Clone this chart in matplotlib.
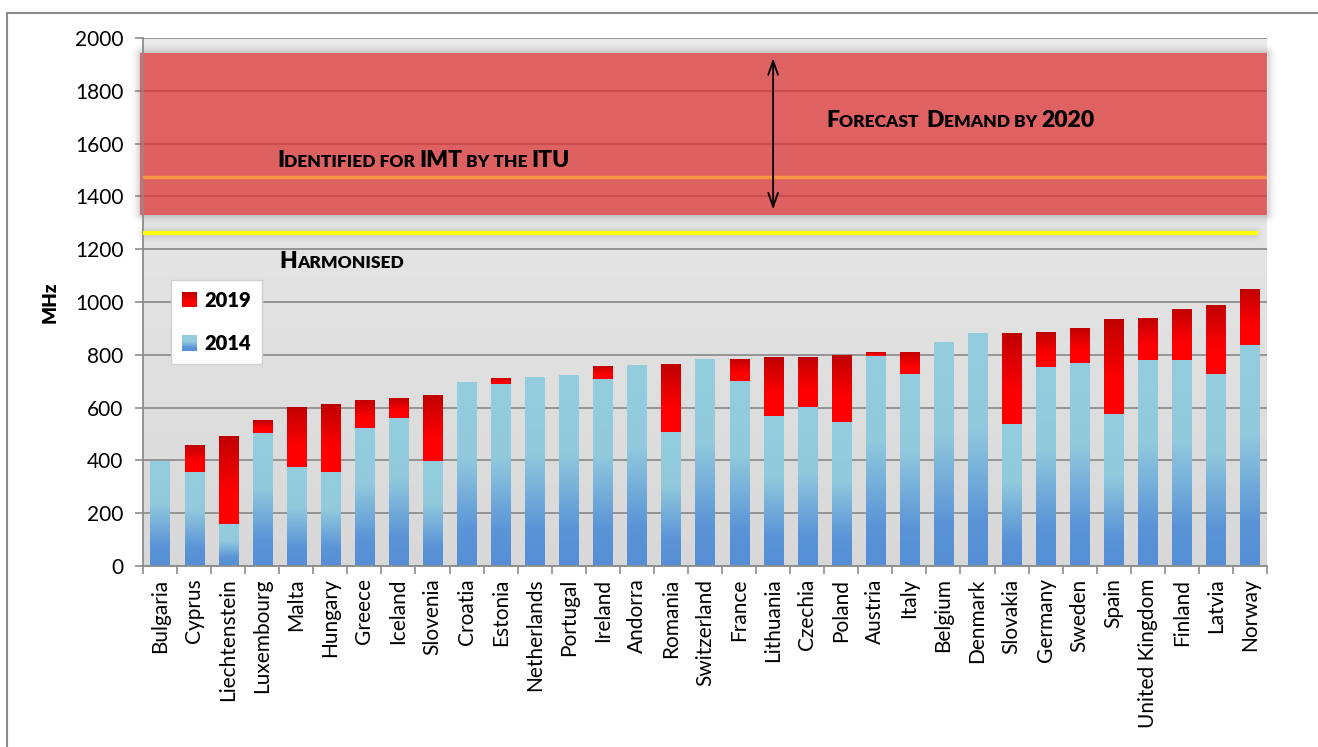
import matplotlib
matplotlib.use('Agg')
import matplotlib.pyplot as plt
import numpy as np
from matplotlib.colors import LinearSegmentedColormap
from matplotlib.legend_handler import HandlerBase
from matplotlib.patches import Rectangle, Patch
from matplotlib.transforms import blended_transform_factory

plt.rcParams['font.family'] = ['Lato', 'DejaVu Sans']

# Data (MHz)
countries = ['Bulgaria', 'Cyprus', 'Liechtenstein', 'Luxembourg', 'Malta', 'Hungary',
             'Greece', 'Iceland', 'Slovenia', 'Croatia', 'Estonia', 'Netherlands',
             'Portugal', 'Ireland', 'Andorra', 'Romania', 'Switzerland', 'France',
             'Lithuania', 'Czechia', 'Poland', 'Austria', 'Italy', 'Belgium', 'Denmark',
             'Slovakia', 'Germany', 'Sweden', 'Spain', 'United Kingdom', 'Finland',
             'Latvia', 'Norway']
mhz_2014 = [395, 355, 158, 502, 374, 355, 521, 562, 396, 694, 691, 713, 721, 709,
            759, 509, 781, 702, 570, 604, 547, 796, 728, 845, 879, 536, 755, 770,
            574, 781, 781, 728, 838]
mhz_2019 = [395, 457, 491, 551, 600, 611, 626, 634, 645, 694, 713, 713, 721, 755,
            759, 766, 781, 785, 792, 792, 800, 808, 808, 845, 879, 879, 887, 902,
            932, 940, 974, 989, 1049]

demand_band = (1330, 1942)
itu_level = 1472
harmonised_level = 1260
y_ticks = [0, 200, 400, 600, 800, 1000, 1200, 1400, 1600, 1800, 2000]

blue_cmap = LinearSegmentedColormap.from_list(
    'blue', [(0, '#558ED5'), (0.2, '#5B95D7'), (0.6, '#92CADD'), (1, '#93CDDD')])
red_cmap = LinearSegmentedColormap.from_list(
    'red', [(0, '#FF0000'), (0.35, '#FF0000'), (1, '#C00000')])

AX_W_PX, AX_H_PX = 1124, 528


def gradient_bars(ax, bars, cmap):
    """Replace the flat face of each bar with a vertical gradient."""
    grad = np.linspace(0, 1, 256).reshape(-1, 1)
    for bar in bars:
        h = bar.get_height()
        if h <= 0:
            continue
        x, y = bar.get_xy()
        w = bar.get_width()
        ax.imshow(grad, extent=[x, x + w, y, y + h], origin='lower', cmap=cmap,
                  aspect='auto', zorder=bar.get_zorder(), interpolation='bilinear')
        bar.set_visible(False)


class GradientHandle(HandlerBase):
    def __init__(self, cmap):
        super().__init__()
        self.cmap = cmap

    def create_artists(self, legend, orig_handle, xdescent, ydescent, width,
                       height, fontsize, trans):
        n = 16
        arts = []
        for k in range(n):
            arts.append(Rectangle((-xdescent, -ydescent + height * k / n), width,
                                  height / n + 0.3, facecolor=self.cmap(k / (n - 1)),
                                  edgecolor='none', transform=trans))
        return arts


def small_caps(ax, x, y, parts, big=16.5, small=12.5):
    """Chain text pieces to fake the small caps look."""
    prev = None
    prev_size = None
    for txt, is_big in parts:
        size = big if is_big else small
        if prev is None:
            prev = ax.text(x, y, txt, transform=ax.transAxes, fontsize=size,
                           fontweight='heavy', va='bottom', ha='left', zorder=6)
        else:
            prev = ax.annotate(txt, xy=(1, 0), xycoords=prev,
                               xytext=(0, 0.2 * (prev_size - size)),
                               textcoords='offset points', fontsize=size,
                               fontweight='heavy', va='bottom', ha='left', zorder=6)
        prev_size = size


def soft_shadow(ax, y0, y1, x0=-0.003, x1=1.0, spread=11, strength=0.35):
    """Blurred gray halo just outside a horizontal strip."""
    ppy = AX_H_PX / 2000
    padx, pady = spread / AX_W_PX, spread / ppy
    xs = np.linspace(x0 - padx, x1 + padx, 600)
    ys = np.linspace(y0 - pady, y1 + pady, 300)
    dx = np.maximum(np.maximum(x0 - xs, xs - x1), 0) * AX_W_PX
    dy = np.maximum(np.maximum(y0 - ys, ys - y1), 0) * ppy
    d = np.hypot(dx[None, :], dy[:, None])
    a = strength * np.clip(1 - d / spread, 0, 1) ** 2
    a[d == 0] = 0
    img = np.zeros((len(ys), len(xs), 4))
    img[..., :3] = 0.45
    img[..., 3] = a
    tr = blended_transform_factory(ax.transAxes, ax.transData)
    im = ax.imshow(img, extent=[xs[0], xs[-1], ys[0], ys[-1]], origin='lower',
                   transform=tr, aspect='auto', zorder=1.2, interpolation='bilinear')
    im.set_clip_on(False)


fig = plt.figure(figsize=(13.18, 7.47), dpi=100)
ax = fig.add_axes([143 / 1318, 181 / 747, AX_W_PX / 1318, AX_H_PX / 747])

x = np.arange(len(countries))
added = np.array(mhz_2019) - np.array(mhz_2014)

bars14 = ax.bar(x, mhz_2014, width=0.56, color='#74a9dc', zorder=2)
bars19 = ax.bar(x, added, bottom=mhz_2014, width=0.56, color='#e00000', zorder=2)
gradient_bars(ax, bars14, blue_cmap)
gradient_bars(ax, bars19, red_cmap)

# plot area background
bg = LinearSegmentedColormap.from_list('bg', ['#d8d8d8', '#ececec'])
ax.imshow(np.linspace(0, 1, 256).reshape(-1, 1), extent=[0, 1, 0, 1], origin='lower',
          cmap=bg, aspect='auto', transform=ax.transAxes, zorder=0.1)

# forecast demand band and reference lines
soft_shadow(ax, demand_band[0], demand_band[1])
soft_shadow(ax, harmonised_level - 5, harmonised_level + 5, x0=0.0, x1=0.99,
            spread=9, strength=0.25)
tr_band = blended_transform_factory(ax.transAxes, ax.transData)
ax.add_patch(Rectangle((-0.003, demand_band[0]), 1.003, demand_band[1] - demand_band[0],
                       transform=tr_band, facecolor=(220 / 255, 52 / 255, 52 / 255),
                       alpha=0.75, lw=0, zorder=1.5, clip_on=False))
ax.axhline(itu_level, color='#F79646', lw=2.5, zorder=3)
ax.axhline(harmonised_level, xmax=0.99, color='#FFFF00', lw=3, zorder=3)

mid = countries.index('Lithuania')
ax.annotate('', xy=(mid, demand_band[1] - 8), xytext=(mid, demand_band[0] + 10),
            arrowprops=dict(arrowstyle='<->,head_length=1.0,head_width=0.35',
                            color='black', lw=1.3), zorder=5)

small_caps(ax, 0.1192, 0.748, [('I', True), ('DENTIFIED FOR ', False), ('IMT', True),
                               (' BY THE ', False), ('ITU', True)])
small_caps(ax, 0.6077, 0.824, [('F', True), ('ORECAST  ', False), ('D', True),
                               ('EMAND BY ', False), ('2020', True)])
small_caps(ax, 0.1210, 0.556, [('H', True), ('ARMONISED', False)])

ax.set_xlim(-0.5, len(countries) - 0.5)
ax.set_ylim(0, 2000)
ax.set_yticks(y_ticks)
ax.set_xticks(x)
ax.set_xticklabels(countries, rotation=90, fontsize=15)
ax.set_xticks(np.arange(-0.5, len(countries), 1), minor=True)
ax.tick_params(axis='x', which='major', length=0, pad=9)
ax.tick_params(axis='x', which='minor', length=6, color='#8c8c8c', width=1.2)
ax.tick_params(axis='y', labelsize=15, length=6, color='#8c8c8c', width=1.2, pad=8)

ax.grid(True, axis='y', color='#8e8e8e', lw=1.3)
ax.set_axisbelow(True)
for side in ['top', 'right']:
    ax.spines[side].set_visible(False)
for side in ['left', 'bottom']:
    ax.spines[side].set_color('#8c8c8c')
    ax.spines[side].set_linewidth(1.3)

ax.set_ylabel('MHz', fontsize=13.5, fontweight='heavy', labelpad=12)

h19, h14 = Patch(), Patch()
leg = ax.legend(handles=[h19, h14], labels=['2019', '2014'],
                handler_map={h19: GradientHandle(red_cmap), h14: GradientHandle(blue_cmap)},
                loc='upper left', bbox_to_anchor=(0.0249, 0.5417),
                prop={'weight': 'heavy', 'size': 14.5}, frameon=True, fancybox=False,
                edgecolor='#d0d0d0', framealpha=1, labelspacing=1.2,
                handlelength=0.75, handleheight=0.75, handletextpad=0.35,
                borderpad=0.55, borderaxespad=0)
leg.set_zorder(7)

# outer chart border
fig.add_artist(Rectangle((7 / 1318, -0.05), 1.0, 734 / 747 + 0.05, transform=fig.transFigure,
                         fill=False, edgecolor='#8c8c8c', lw=1.5))

fig.savefig('out.png', dpi=100, facecolor='white')
